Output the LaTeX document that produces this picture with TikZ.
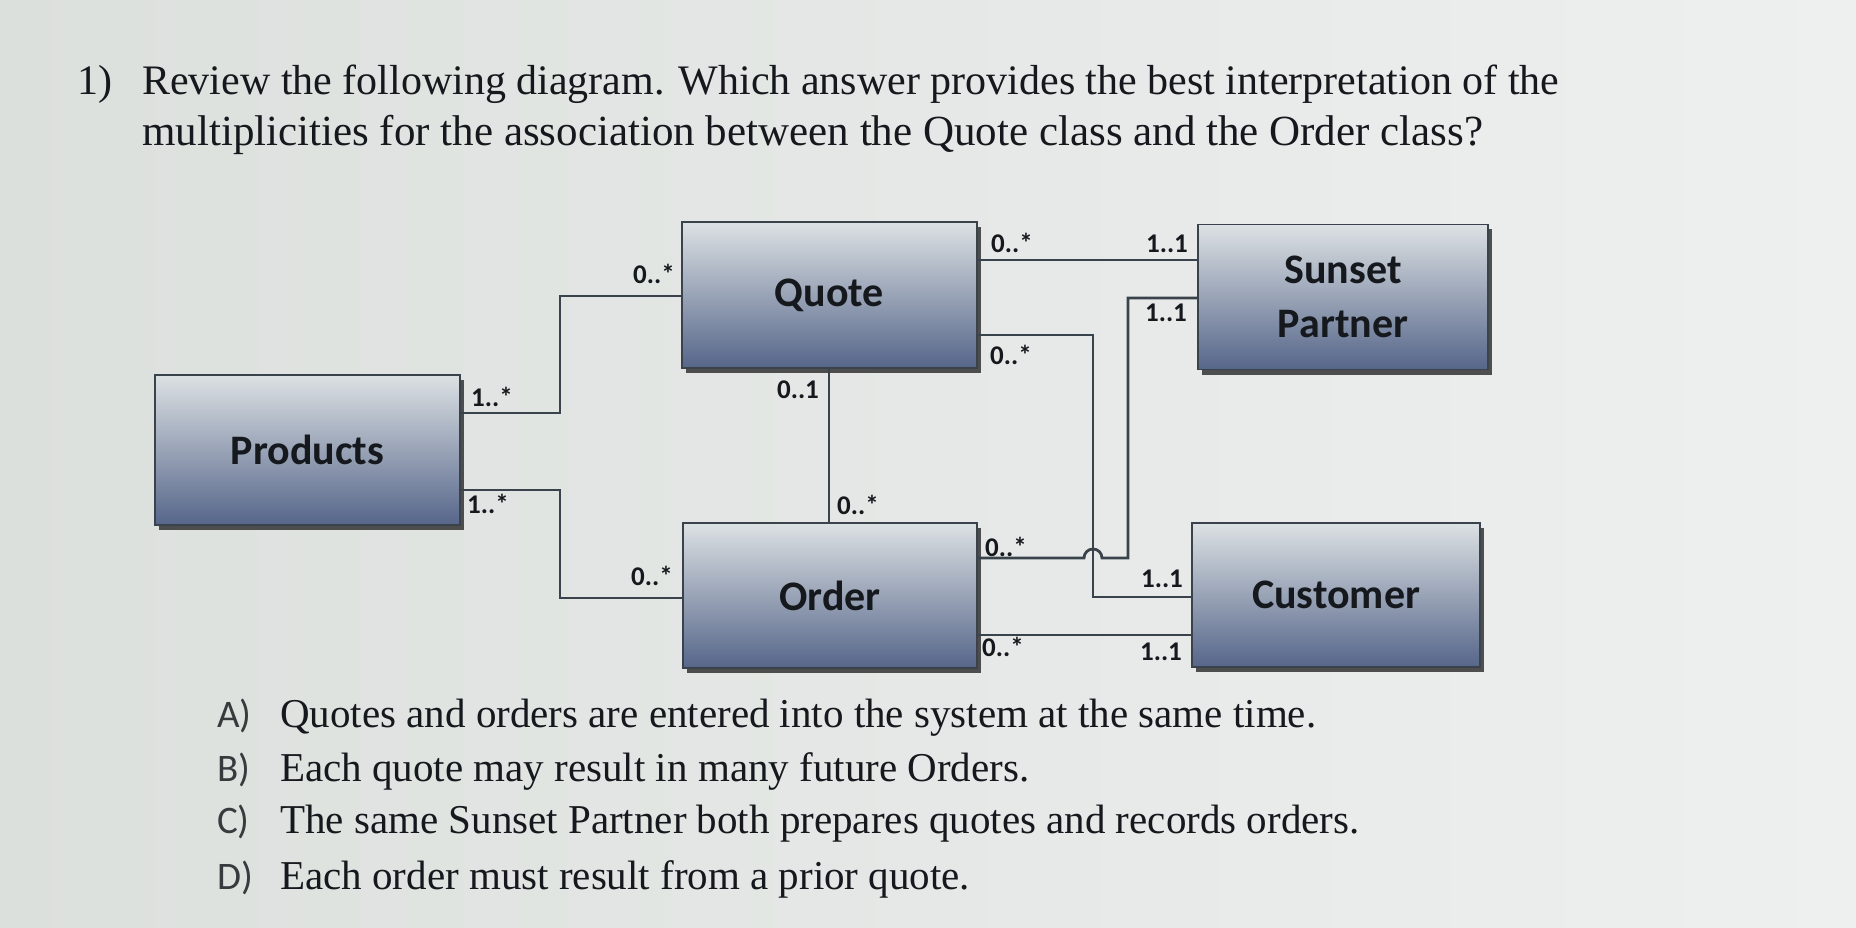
\documentclass[tikz,border=0pt]{standalone}
\usepackage{fontspec}
\setmainfont{Liberation Serif}
\newfontfamily\calib{Carlito}
\usetikzlibrary{shadows}
\definecolor{bgL}{HTML}{DCE0DD}
\definecolor{bgR}{HTML}{EEF0EF}
\definecolor{boxTop}{HTML}{DCE1E3}
\definecolor{boxMid}{HTML}{C4CCD5}
\definecolor{boxBot}{HTML}{56668A}
\definecolor{edge}{HTML}{3A424C}
\definecolor{ink}{HTML}{15181C}
\begin{document}
\begin{tikzpicture}[x=1pt,y=-1pt,
  cls/.style={rectangle, draw=edge, line width=1.6pt, top color=boxTop, middle color=boxMid, bottom color=boxBot,
    drop shadow={shadow xshift=4pt, shadow yshift=-5pt, fill=black!80, opacity=0.85},
    font=\calib\bfseries\fontsize{42}{54}\selectfont, text=ink, align=center, inner sep=0pt},
  conn/.style={draw=edge, line width=2.8pt},
  mult/.style={font=\calib\bfseries\fontsize{27}{30}\selectfont, text=ink, inner sep=0pt},
  qtext/.style={anchor=base west, inner sep=0pt, text=ink, font=\fontsize{42}{48}\selectfont},
  otext/.style={anchor=base west, inner sep=0pt, text=ink, font=\fontsize{41}{48}\selectfont},
  opt/.style={anchor=base west, inner sep=0pt, text=ink!85, font=\calib\fontsize{39}{46}\selectfont}]
\useasboundingbox (0,0) rectangle (1856,928);
\shade[left color=bgL, right color=bgR] (0,0) rectangle (1856,928);

% question
\node[qtext] (qn) at (77,95) {1)};
\node[qtext] (q1) at (142,95) {Review the following diagram. Which answer provides the best interpretation of the};
\node[qtext, font=\fontsize{43}{48}\selectfont] (q2) at (142,146) {multiplicities for the association between the Quote class and the Order class?};

% classes
\node[cls, minimum width=295pt, minimum height=146pt] (quote) at (829.5,295) {Quote};
\node[cls, minimum width=305pt, minimum height=150pt] (products) at (307.5,450) {Products};
\node[cls, minimum width=294pt, minimum height=145pt] (order) at (830,595.5) {Order};
\node[cls, minimum width=290pt, minimum height=145pt] (sunset) at (1343,297) {Sunset\\Partner};
\node[cls, minimum width=288pt, minimum height=144pt] (customer) at (1336,595) {Customer};

% connectors
\draw[conn] (quote.west |- 0,296) -| (560,413) -- (products.east |- 0,413);
\draw[conn] (products.east |- 0,490) -| (560,598) -- (order.west |- 0,598);
\draw[conn] (quote.south -| 829,0) -- (order.north -| 829,0);
\draw[conn] (quote.east |- 0,260) -- (sunset.west |- 0,260);
\draw[conn] (quote.east |- 0,335) -| (1093,597) -- (customer.west |- 0,597);
\draw[conn] (order.east |- 0,558) -- (1084,558) arc[start angle=180, end angle=360, radius=9] -- (1128,558) -- (1128,298) -- (sunset.west |- 0,298);
\draw[conn] (order.east |- 0,635) -- (customer.west |- 0,635);

% multiplicities
\node[mult] (m1) at (654,274) {0..*};
\node[mult] (m2) at (492,397) {1..*};
\node[mult] (m3) at (488,504) {1..*};
\node[mult] (m4) at (652,576) {0..*};
\node[mult] (m5) at (798,390) {0..1};
\node[mult] (m6) at (858,505) {0..*};
\node[mult] (m7) at (1012,243) {0..*};
\node[mult] (m8) at (1167,244) {1..1};
\node[mult] (m9) at (1166,313) {1..1};
\node[mult] (m10) at (1011,355) {0..*};
\node[mult] (m11) at (1006,547) {0..*};
\node[mult] (m12) at (1162,579) {1..1};
\node[mult] (m13) at (1003,647) {0..*};
\node[mult] (m14) at (1161,652) {1..1};

% options
\node[opt] (la) at (217,727) {A)};
\node[otext] (ta) at (280,727) {Quotes and orders are entered into the system at the same time.};
\node[opt] (lb) at (217,781) {B)};
\node[otext] (tb) at (280,781) {Each quote may result in many future Orders.};
\node[opt] (lc) at (217,833) {C)};
\node[otext] (tc) at (280,833) {The same Sunset Partner both prepares quotes and records orders.};
\node[opt] (ld) at (217,889) {D)};
\node[otext] (td) at (280,889) {Each order must result from a prior quote.};
\end{tikzpicture}
\end{document}
